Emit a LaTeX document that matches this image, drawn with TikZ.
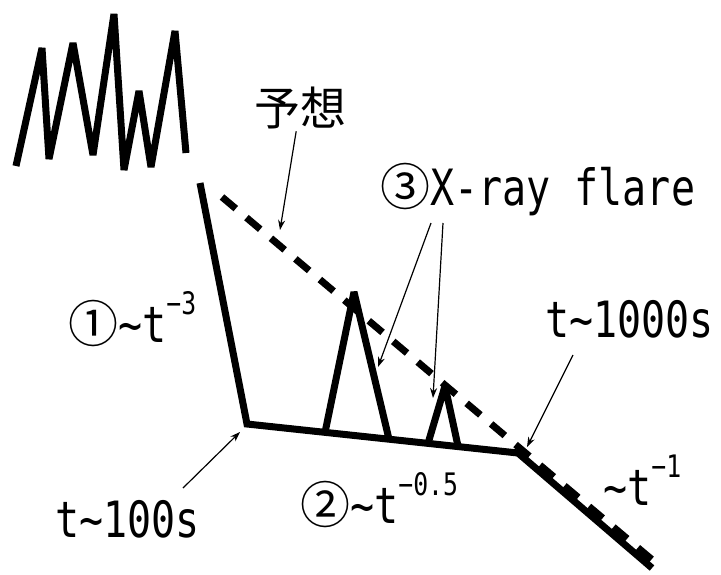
\documentclass[tikz,border=0pt]{standalone}
\usepackage{fontspec}
\usepackage{tikz}
\usetikzlibrary{arrows.meta, positioning, calc}
\newfontfamily\jpfont{Noto Sans CJK JP}
\newfontfamily\gothmono[FakeStretch=0.8]{DejaVu Sans Mono}
\newcommand{\powr}[1]{\raisebox{28pt}{\fontsize{31}{31}\selectfont #1}}
\newcommand{\circnum}[1]{{\jpfont #1}}

\begin{document}
\begin{tikzpicture}[x=1pt, y=-1pt,
    curve/.style={line width=7pt},
    trend/.style={line width=7pt, dash pattern=on 18pt off 14pt},
    pointer/.style={line width=1.2pt, -{Stealth[length=10pt, width=7pt]}},
    lbl/.style={inner sep=0pt, anchor=base west, font=\fontsize{50}{50}\selectfont\gothmono}]
  \useasboundingbox (0,0) rectangle (721,574);
  \coordinate (start) at (200,183);
  \coordinate (brk1) at (247,424);
  \coordinate (brk2) at (518,453);
  \coordinate (end) at (652,568);

  \draw[curve, line join=bevel] (16,166)
    \foreach \p in {(42,48),(49,159),(73,43),(93,155),(114,14),(124,170),(139,91),(151,167),(175,31)}
    { -- \p } -- (186,153);

  \draw[trend] (222,197) -- (656,563);
  \draw[curve] (start) -- (brk1) -- (brk2) -- (end);
  \foreach \a/\px/\py/\b in {0.288/354/292/0.524, 0.668/445/386/0.779}
    \draw[curve, line join=bevel] ($(brk1)!\a!(brk2)$) -- (\px,\py) -- ($(brk1)!\b!(brk2)$);

  \node[inner sep=2pt, font=\fontsize{46}{46}\selectfont\jpfont] (yosou) at (300,108) {予想};
  \node[lbl] (flare) at (380,205) {\circnum{③}X-ray flare};
  \node[lbl] (phase1) at (68,342) {\circnum{①}\textasciitilde t\powr{−3}};
  \node[lbl] (t100) at (55,537) {t\textasciitilde 100s};
  \node[lbl] (phase2) at (300,523) {\circnum{②}\textasciitilde t\powr{−0.5}};
  \node[lbl] (t1000) at (545,337) {t\textasciitilde 1000s};
  \node[lbl] (phase3) at (603,505) {\textasciitilde t\powr{−1}};

  \coordinate (yosoutip) at (280,230);
  \coordinate (t100tip) at (240,432);
  \coordinate (flaretipa) at (378,367);
  \coordinate (flaretipb) at (433,398);
  \coordinate (t1000tip) at (527,447);
  \draw[pointer] (yosou) -- (yosoutip);
  \draw[pointer] ([shift={(51,18)}]flare.base west) -- (flaretipa);
  \draw[pointer] ([shift={(63,18)}]flare.base west) -- (flaretipb);
  \draw[pointer] ([shift={(128,-49)}]t100.base west) -- (t100tip);
  \draw[pointer] ([shift={(28,18)}]t1000.base west) -- (t1000tip);
\end{tikzpicture}
\end{document}
